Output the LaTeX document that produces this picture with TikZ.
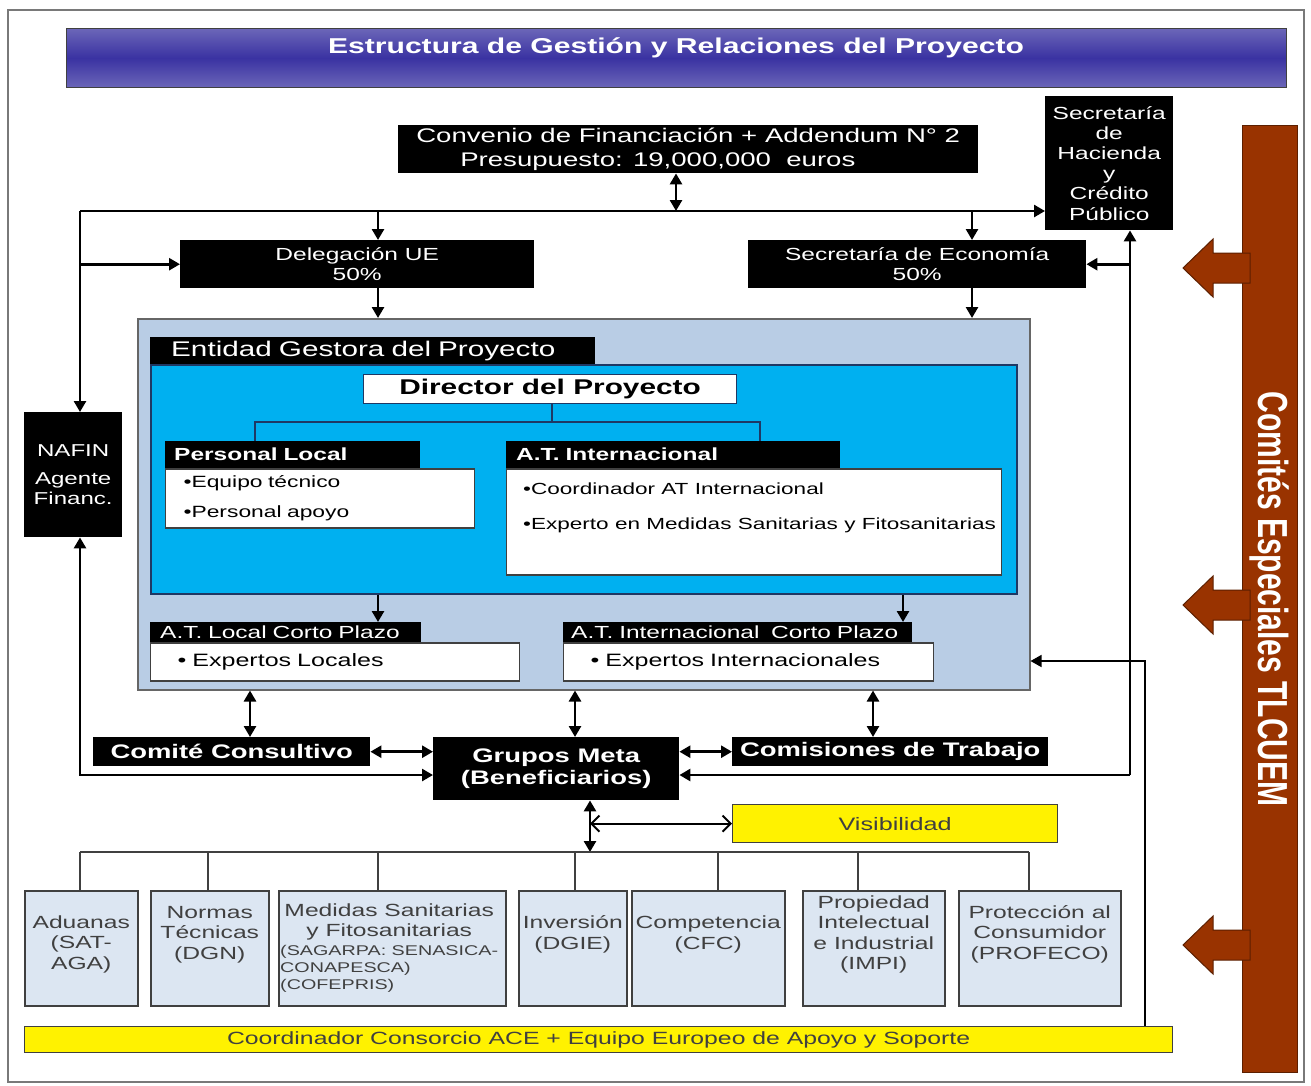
\documentclass[tikz,border=0pt]{standalone}
\usepackage{fontspec}
\setmainfont{Liberation Sans}[FakeStretch=1.4]
\newfontfamily\barfont{Liberation Sans}
\usetikzlibrary{positioning, arrows.meta}
\definecolor{titulomorado}{HTML}{6B66B8}
\definecolor{titulooscuro}{HTML}{3A32A2}
\definecolor{azulgestion}{HTML}{B9CDE5}
\definecolor{cian}{HTML}{00B0F0}
\definecolor{azulmarino}{HTML}{1F3864}
\definecolor{azulclaro}{HTML}{DCE6F2}
\definecolor{marron}{HTML}{993300}
\definecolor{marronosc}{HTML}{5C1F00}
\definecolor{gris}{HTML}{404040}
\newcommand{\fsz}[2]{\fontsize{#1pt}{#2pt}\selectfont}

\begin{document}
\begin{tikzpicture}[x=1pt, y=-1pt,
	>={Triangle[length=11pt, width=12pt]},
	caja/.style={rectangle, inner sep=0pt, anchor=north west},
	negra/.style={caja, fill=black, text=white, align=center},
	cabecera/.style={caja, fill=black, text=white, align=left, inner xsep=9pt},
	cuerpo/.style={caja, fill=white, draw=gris, line width=1.2pt, align=left},
	tema/.style={caja, fill=azulclaro, draw=gris, line width=1.5pt, minimum height=115pt},
	tematxt/.style={inner sep=0pt, align=center, text=gris, font=\fsz{17.6}{20.5}},
	amarilla/.style={caja, fill=yellow, draw=gris, line width=1.2pt, text=gris},
	conn/.style={line width=2.6pt, ->},
	delgada/.style={line width=1.5pt, ->},
	abierta/.style={line width=2pt, {Straight Barb[length=8pt, width=16pt]}-{Straight Barb[length=8pt, width=16pt]}},
	arbol/.style={line width=1.3pt, draw=azulmarino},
	ramas/.style={line width=1.3pt, draw=gris},
	flechamarron/.style={fill=marron, draw=marronosc, line width=1pt},
	]
		\useasboundingbox (0,0) rectangle (1311,1085);
		\draw[gris!70, line width=1.5pt] (8,10) rectangle (1304,1082);

		%Nodes
		\node[caja, minimum width=1220pt, minimum height=59pt, top color=titulomorado, bottom color=titulomorado, middle color=titulooscuro, draw=gris, line width=1pt] (Titulo) at (66,28) {};
		\node[text=white, font=\bfseries\fsz{21.5}{25}] (TituloTxt) at (676,48) {Estructura de Gestión y Relaciones del Proyecto};

		\node[negra, align=left, minimum width=580pt, minimum height=48pt, font=\fsz{19.7}{24}] (Convenio) at (398,125) {Convenio de Financiación + Addendum N° 2\\\hspace*{44pt}Presupuesto: 19,000,000~ euros};
		\node[negra, minimum width=128pt, minimum height=134pt, font=\fsz{17.5}{20.2}] (Hacienda) at (1045,96) {Secretaría\\de\\Hacienda\\y\\Crédito\\Público};
		\node[negra, minimum width=354pt, minimum height=48pt, font=\fsz{17.5}{20}] (Delegacion) at (180,240) {Delegación UE\\50\%};
		\node[negra, minimum width=338pt, minimum height=48pt, font=\fsz{17.5}{20}] (Economia) at (748,240) {Secretaría de Economía\\50\%};
		\node[negra, minimum width=98pt, minimum height=125pt, font=\fsz{17.2}{20}] (NAFIN) at (24,412) {NAFIN\\[8pt]Agente\\Financ.};

		\node[caja, fill=azulgestion, draw=gris!80, line width=1.5pt, minimum width=892pt, minimum height=371pt] (Gestion) at (137,318) {};
		\node[caja, fill=cian, draw=azulmarino, line width=1.5pt, minimum width=866pt, minimum height=229pt] (Ejecutora) at (150,364) {};
		\node[cabecera, inner xsep=21pt, text width=403pt, minimum height=27pt, font=\fsz{21.2}{24}] (Entidad) at (150,337) {Entidad Gestora del Proyecto};
		\node[caja, fill=white, draw=azulmarino, line width=1.2pt, minimum width=373pt, minimum height=29pt, font=\bfseries\fsz{21.3}{24}] (Director) at (363,374) {Director del Proyecto};

		\node[cabecera, text width=237pt, minimum height=27pt, font=\bfseries\fsz{17.5}{20}] (PLcab) at (165,441) {Personal Local};
		\node[cuerpo, below right=0pt and 0pt of PLcab.south west, inner xsep=18pt, text width=273pt, minimum height=59pt, font=\fsz{16.3}{30}] (PLcuerpo) {•Equipo técnico\\•Personal apoyo};
		\node[cabecera, inner xsep=10pt, text width=314pt, minimum height=27pt, font=\bfseries\fsz{17.5}{20}] (ATIcab) at (506,441) {A.T. Internacional};
		\node[cuerpo, below right=0pt and 0pt of ATIcab.south west, minimum width=495pt, minimum height=106pt] (ATIcuerpo) {};
		\node[anchor=north west, inner sep=0pt, align=left, font=\fsz{16.1}{35}] (ATItxt) at ([xshift=17pt, yshift=-14pt]ATIcuerpo.north west) {•Coordinador AT Internacional\\•Experto en Medidas Sanitarias y Fitosanitarias};

		\node[cabecera, inner xsep=10pt, text width=251pt, minimum height=20pt, font=\fsz{17.5}{20}] (ATLcab) at (150,622) {A.T. Local Corto Plazo};
		\node[cuerpo, below right=0pt and 0pt of ATLcab.south west, inner xsep=27pt, text width=315pt, minimum height=38pt, font=\fsz{17.9}{20}] (ATLcuerpo) {• Expertos Locales};
		\node[cabecera, inner xsep=8pt, text width=333pt, minimum height=20pt, font=\fsz{17.5}{20}] (ATICcab) at (563,622) {A.T. Internacional~ Corto Plazo};
		\node[cuerpo, below right=0pt and 0pt of ATICcab.south west, inner xsep=27pt, text width=316pt, minimum height=38pt, font=\fsz{17.9}{20}] (ATICcuerpo) {• Expertos Internacionales};

		\node[negra, minimum width=277pt, minimum height=29pt, font=\bfseries\fsz{19.6}{22}] (Comite) at (93,737) {Comité Consultivo};
		\node[negra, minimum width=246pt, minimum height=63pt, font=\bfseries\fsz{19.6}{22}] (Grupos) at (433,737) {Grupos Meta\\(Beneficiarios)};
		\node[negra, minimum width=316pt, minimum height=29pt, font=\bfseries\fsz{19.6}{22}] (Comisiones) at (732,737) {Comisiones de Trabajo};
		\node[amarilla, minimum width=325pt, minimum height=38pt, font=\fsz{18}{20}] (Visibilidad) at (732,804) {Visibilidad};

		\node[tema, minimum width=113pt] (Aduanas) at (24,890) {};
		\node[tema, minimum width=118pt] (Normas) at (150,890) {};
		\node[tema, minimum width=227pt] (Medidas) at (278,890) {};
		\node[tema, minimum width=108pt] (Inversion) at (518,890) {};
		\node[tema, minimum width=153pt] (Competencia) at (631,890) {};
		\node[tema, minimum width=142pt] (Propiedad) at (802,890) {};
		\node[tema, minimum width=162pt] (Proteccion) at (958,890) {};
		\node[tematxt] (AduanasTxt) at ([yshift=4pt]Aduanas.center) {Aduanas\\(SAT-\\AGA)};
		\node[tematxt] (NormasTxt) at ([yshift=14pt]Normas.center) {Normas\\Técnicas\\(DGN)};
		\node[tematxt] (MedidasTxt) at ([xshift=-3pt, yshift=26.5pt]Medidas.center) {Medidas Sanitarias\\y Fitosanitarias};
		\node[tematxt, anchor=west, align=left, font=\fsz{14.1}{17}] (MedidasSub) at ([xshift=2pt, yshift=-21pt]Medidas.west) {(SAGARPA: SENASICA-\\CONAPESCA)\\(COFEPRIS)};
		\node[tematxt] (InversionTxt) at ([yshift=14pt]Inversion.center) {Inversión\\(DGIE)};
		\node[tematxt] (CompetenciaTxt) at ([yshift=14pt]Competencia.center) {Competencia\\(CFC)};
		\node[tematxt] (PropiedadTxt) at ([yshift=14pt]Propiedad.center) {Propiedad\\Intelectual\\e Industrial\\(IMPI)};
		\node[tematxt] (ProteccionTxt) at ([yshift=14pt]Proteccion.center) {Protección al\\Consumidor\\(PROFECO)};

		\node[amarilla, minimum width=1148pt, minimum height=26pt, font=\fsz{17.7}{20}] (Coordinador) at (24,1026) {Coordinador Consorcio ACE + Equipo Europeo de Apoyo y Soporte};

		\node[caja, fill=marron, draw=marronosc, line width=1pt, minimum width=55pt, minimum height=947pt] (Comites) at (1242,125) {};
		\foreach \y in {268, 605, 945}
			\filldraw[flechamarron] (1183,\y) -- ++(30,-29) -- ++(0,14) -- ++(37,0) -- ++(0,30) -- ++(-37,0) -- ++(0,14) -- cycle;
		\begin{scope}[shift={(Comites.center)}, xscale=1.4, rotate=-90]
			\node[transform shape, text=white, font=\barfont\bfseries\fsz{30}{32}] (ComitesTxt) at (0,0) {Comités Especiales TLCUEM};
		\end{scope}

		%Coordinates
		\coordinate (BusL) at (80,211);
		\coordinate (BusC) at (676,211);
		\coordinate (xDel) at (378,0);
		\coordinate (xEco) at (972,0);
		\coordinate (xATIC) at (903,0);
		\coordinate (xDer) at (1130,775);
		\coordinate (xIzq) at (80,775);
		\coordinate (xCoord) at (1145,661);
		\coordinate (xCC) at (250,0);
		\coordinate (xGM) at (575,0);
		\coordinate (xCT) at (873,0);
		\coordinate (Nudo) at (590,852);
		\coordinate (Rama) at (552,422);
		\coordinate (xPL) at (255,0);
		\coordinate (xATI) at (760,0);

		%Lines
		\draw[conn] (BusL) -- (BusL -| Hacienda.west);
		\draw[conn, <->] (BusC |- Convenio.south) -- (BusC);
		\draw[conn] (xDel |- BusL) -- (xDel |- Delegacion.north);
		\draw[conn] (xEco |- BusL) -- (xEco |- Economia.north);
		\draw[conn] (BusL) -- (BusL |- NAFIN.north);
		\draw[conn] (BusL |- Delegacion.west) -- (Delegacion.west);
		\draw[conn] (xDel |- Delegacion.south) -- (xDel |- Gestion.north);
		\draw[conn] (xEco |- Economia.south) -- (xEco |- Gestion.north);
		\draw[conn] (xDer) -- (xDer |- Hacienda.south);
		\draw[conn] (xDer |- Economia.east) -- (Economia.east);
		\draw[conn] (xDer) -- (xDer -| Grupos.east);
		\draw[conn, <->] (NAFIN.south -| xIzq) -- (xIzq) -- (xIzq -| Grupos.west);

		\draw[arbol] (Director.south -| Rama) -- (Rama);
		\draw[arbol] (xPL |- PLcab.north) |- (Rama) -| (xATI |- ATIcab.north);
		\draw[conn] (xDel |- Ejecutora.south) -- (xDel |- ATLcab.north);
		\draw[conn] (xATIC |- Ejecutora.south) -- (xATIC |- ATICcab.north);
		\draw[delgada] (xCoord |- Coordinador.north) -- (xCoord) -- (xCoord -| Gestion.east);

		\draw[conn, <->] (xCC |- Gestion.south) -- (xCC |- Comite.north);
		\draw[conn, <->] (xGM |- Gestion.south) -- (xGM |- Grupos.north);
		\draw[conn, <->] (xCT |- Gestion.south) -- (xCT |- Comisiones.north);
		\draw[conn, <->] (Comite.east) -- (Comite.east -| Grupos.west);
		\draw[conn, <->] (Grupos.east |- Comisiones.west) -- (Comisiones.west);
		\draw[conn, <->] (Nudo |- Grupos.south) -- (Nudo);
		\draw[abierta] (Nudo |- Visibilidad.west) -- (Visibilidad.west);

		\draw[ramas] (80,852) coordinate (RamaIzq) -- (1029,852) coordinate (RamaDer);
		\foreach \tema/\x in {Aduanas/80, Normas/208, Medidas/378, Inversion/575, Competencia/718, Propiedad/858, Proteccion/1029} {
			\coordinate (b\tema) at (\x,852);
			\draw[ramas] (b\tema) -- (b\tema |- \tema.north);
		}
	\end{tikzpicture}
\end{document}
